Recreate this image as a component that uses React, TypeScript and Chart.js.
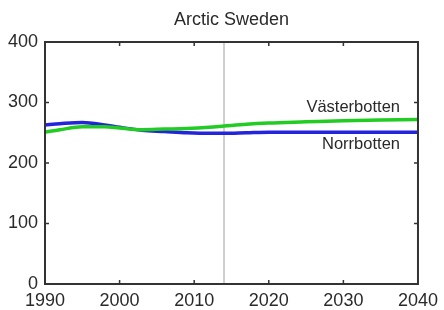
import React, { useEffect, useRef } from "react";
import { Chart, registerables } from "chart.js";

Chart.register(...registerables);

const title = "Arctic Sweden";
const years = [1990, 1992, 1995, 1998, 2000, 2003, 2006, 2009, 2012, 2014, 2017, 2020, 2025, 2030, 2035, 2040];
const norrbotten = [263, 265, 267, 263, 259, 254, 252, 250, 249, 249, 250, 251, 251, 251, 251, 251];
const vasterbotten = [251, 255, 260, 260, 258, 255, 256, 257, 259, 261, 264, 266, 268, 270, 271, 272];
const seriesNames = ["Västerbotten", "Norrbotten"];
const markerYear = 2014;
const xTicks = [1990, 2000, 2010, 2020, 2030, 2040];
const yTicks = [0, 100, 200, 300, 400];

const FONT = '"Liberation Sans", Arial, Helvetica, sans-serif';
const TEXT = "#2a2a2a";

const framePlugin = {
  id: "frame",
  beforeDatasetsDraw(chart: any) {
    const { ctx, chartArea: a, scales } = chart;
    const x = scales.x.getPixelForValue(markerYear);
    ctx.save();
    ctx.strokeStyle = "#cfcfcf";
    ctx.lineWidth = 2;
    ctx.beginPath();
    ctx.moveTo(x, a.top);
    ctx.lineTo(x, a.bottom);
    ctx.stroke();
    ctx.restore();
  },
  afterDatasetsDraw(chart: any) {
    const { ctx, chartArea: a, scales } = chart;
    ctx.save();
    ctx.strokeStyle = "#333333";
    ctx.lineWidth = 2;
    ctx.strokeRect(a.left, a.top, a.right - a.left, a.bottom - a.top);
    ctx.lineWidth = 1.5;
    const tl = 4;
    ctx.beginPath();
    xTicks.slice(1, -1).forEach((v) => {
      const px = scales.x.getPixelForValue(v);
      ctx.moveTo(px, a.bottom);
      ctx.lineTo(px, a.bottom - tl);
      ctx.moveTo(px, a.top);
      ctx.lineTo(px, a.top + tl);
    });
    yTicks.slice(1, -1).forEach((v) => {
      const py = scales.y.getPixelForValue(v);
      ctx.moveTo(a.left, py);
      ctx.lineTo(a.left + tl, py);
      ctx.moveTo(a.right, py);
      ctx.lineTo(a.right - tl, py);
    });
    ctx.stroke();

    // title
    ctx.fillStyle = TEXT;
    ctx.font = `18px ${FONT}`;
    ctx.textAlign = "center";
    ctx.textBaseline = "middle";
    ctx.fillText(title, (a.left + a.right) / 2, 20);

    // series labels
    ctx.font = `16.5px ${FONT}`;
    ctx.textAlign = "right";
    const lx = a.right - 18;
    const vy = scales.y.getPixelForValue(vasterbotten[vasterbotten.length - 1]);
    const ny = scales.y.getPixelForValue(norrbotten[norrbotten.length - 1]);
    ctx.fillText(seriesNames[0], lx, vy - 12);
    ctx.fillText(seriesNames[1], lx, ny + 12);
    ctx.restore();
  },
};

export default function App() {
  const ref = useRef<HTMLCanvasElement>(null);
  useEffect(() => {
    if (!ref.current) return;
    const chart = new Chart(ref.current, {
      type: "line",
      data: {
        datasets: [
          {
            label: seriesNames[0],
            data: years.map((y, i) => ({ x: y, y: vasterbotten[i] })),
            borderColor: "#22cc22",
            borderWidth: 3.5,
            pointRadius: 0,
            cubicInterpolationMode: "monotone",
          },
          {
            label: seriesNames[1],
            data: years.map((y, i) => ({ x: y, y: norrbotten[i] })),
            borderColor: "#2424dc",
            borderWidth: 3.5,
            pointRadius: 0,
            cubicInterpolationMode: "monotone",
          },
        ],
      },
      options: {
        animation: false,
        responsive: false,
        devicePixelRatio: 1,
        layout: { padding: { left: 0, right: 23, top: 42, bottom: 0 } },
        plugins: { legend: { display: false }, tooltip: { enabled: false }, title: { display: false } },
        scales: {
          x: {
            type: "linear",
            min: 1990,
            max: 2040,
            afterBuildTicks: (s: any) => {
              s.ticks = xTicks.map((v) => ({ value: v }));
            },
            afterFit: (s: any) => {
              s.height = 26;
            },
            grid: { display: false, drawTicks: false },
            border: { display: false },
            ticks: {
              color: TEXT,
              font: { family: FONT, size: 18 },
              padding: 6,
              maxRotation: 0,
              autoSkip: false,
              callback: (v: any) => String(v),
            },
          },
          y: {
            type: "linear",
            min: 0,
            max: 400,
            afterBuildTicks: (s: any) => {
              s.ticks = yTicks.map((v) => ({ value: v }));
            },
            afterFit: (s: any) => {
              s.width = 45;
            },
            grid: { display: false, drawTicks: false },
            border: { display: false },
            ticks: { color: TEXT, font: { family: FONT, size: 18 }, padding: 7, callback: (v: any) => String(v) },
          },
        },
      },
      plugins: [framePlugin],
    } as any);
    return () => chart.destroy();
  }, []);
  return (
    <div style={{ position: "fixed", left: 0, top: 0, width: 444, height: 310, background: "#fff" }}>
      <canvas ref={ref} width={444} height={310} />
    </div>
  );
}
